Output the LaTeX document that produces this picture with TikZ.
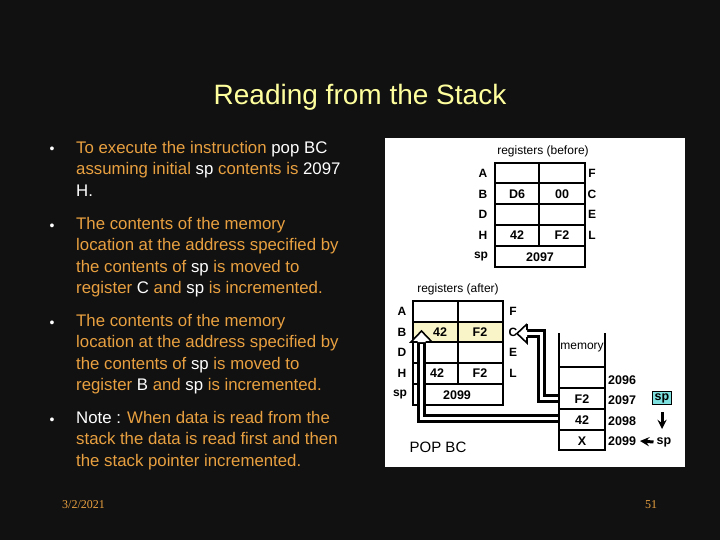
\documentclass[tikz,border=0pt]{standalone}
\usepackage{fontspec}
\setmainfont{Liberation Sans}
\newfontfamily\serifdate{Liberation Serif}
\begin{document}
\begin{tikzpicture}[x=1pt,y=-1pt,
  body/.style={anchor=north west,inner sep=0pt,align=left,text=orn,font=\fontsize{16.8}{21.5}\selectfont},
  bul/.style={anchor=base,inner sep=0pt,text=white,font=\fontsize{14}{14}\selectfont},
  lab/.style={inner sep=0pt,font=\bfseries\fontsize{12}{12}\selectfont},
  val/.style={inner sep=0pt,font=\bfseries\fontsize{12.5}{12}\selectfont},
  ttl/.style={inner sep=0pt,font=\fontsize{12}{12}\selectfont},
  grid/.style={line width=1.6pt,draw=black}]
\definecolor{orn}{HTML}{E8A040}
\definecolor{bg}{HTML}{111111}
\definecolor{ylw}{HTML}{FFFF9E}
\definecolor{lyel}{HTML}{FAF5C8}
\definecolor{cyn}{HTML}{7FE0E0}
\newcommand{\W}[1]{\textcolor{white}{#1}}
\fill[bg] (0,0) rectangle (720,540);
\useasboundingbox (0,0) rectangle (720,540);
\node[anchor=base,inner sep=0pt,text=ylw,font=\fontsize{28}{28}\selectfont] (title) at (360,105) {Reading from the Stack};
% bullets
\node[bul] (b1) at (52,154) {\textbullet};
\node[body] (p1) at (76,138) {\strut To execute the instruction \W{pop BC}\\assuming initial \W{sp} contents is \W{2097}\\\W{H.}};
\node[bul] (b2) at (52,230) {\textbullet};
\node[body] (p2) at (76,214) {\strut The contents of the memory\\location at the address specified by\\the contents of \W{sp} is moved to\\register \W{C} and \W{sp} is incremented.};
\node[bul] (b3) at (52,327) {\textbullet};
\node[body] (p3) at (76,311) {\strut The contents of the memory\\location at the address specified by\\the contents of \W{sp} is moved to\\register \W{B} and \W{sp} is incremented.};
\node[bul] (b4) at (52,424) {\textbullet};
\node[body] (p4) at (76,408) {\strut\W{Note :} When data is read from the\\stack the data is read first and then\\the stack pointer incremented.};
\node[anchor=base west,inner sep=0pt,text=orn,font=\serifdate\fontsize{12}{12}\selectfont] (date) at (62,508) {3/2/2021};
\node[anchor=base,inner sep=0pt,text=orn,font=\serifdate\fontsize{12}{12}\selectfont] (pg) at (651,508) {51};
% panel
\fill[white] (385,138) rectangle (685,467);
% before table
\node[ttl] (tb) at (543,151) {registers (before)};
\draw[grid] (495,163) rectangle (585,267);
\foreach \y in {183,204,225,246} \draw[grid] (495,\y) -- (585,\y);
\draw[grid] (539,163) -- (539,246);
\foreach \n/\y in {A/173,B/194,D/214,H/235} \node[lab] (bl\n) at (483,\y) {\n};
\foreach \n/\y in {F/173,C/194,E/214,L/235} \node[lab] (br\n) at (592,\y) {\n};
\node[lab] (bsp) at (481,257) {sp};
\node[val] (bD6) at (517,194) {D6};
\node[val] (b00) at (562,194) {00};
\node[val] (b42) at (517,235) {42};
\node[val] (bF2) at (562,235) {F2};
\node[val] (b2097) at (540,257) {2097};
% after table
\node[ttl] (ta) at (458,289) {registers (after)};
\fill[lyel] (413,322) rectangle (503,342);
\draw[grid] (413,301) rectangle (503,405);
\foreach \y in {322,342,363,384} \draw[grid] (413,\y) -- (503,\y);
\draw[grid] (458,301) -- (458,384);
\foreach \n/\y in {A/311,B/332,D/352,H/373} \node[lab] (al\n) at (402,\y) {\n};
\foreach \n/\y in {F/311,C/332,E/352,L/373} \node[lab] (ar\n) at (513,\y) {\n};
\node[lab] (asp) at (400,395) {sp};
\node[val] (a42) at (440,332) {42};
\node[val] (aF2) at (480,332) {F2};
\node[val] (a42b) at (437,373) {42};
\node[val] (aF2b) at (480,373) {F2};
\node[val] (a2099) at (457,395) {2099};
% memory
\draw[grid] (559,333) -- (559,450) -- (605,450) -- (605,333);
\foreach \y in {367,388,409,430} \draw[grid] (559,\y) -- (605,\y);
\node[ttl] (mem) at (582,348) {memory};
\node[val] (mF2) at (582,399) {F2};
\node[val] (m42) at (582,420) {42};
\node[val] (mX) at (582,441) {X};
\foreach \a/\y in {2096/380,2097/400,2098/421,2099/441} \node[val,anchor=west] (ad\a) at (608,\y) {\a};
\node[val,fill=cyn,draw=black,line width=0.6pt,inner sep=2pt] (spbox) at (662,398) {sp};
\coordinate (dtop) at (662,412);
\coordinate (dbot) at (662,429);
\draw[line width=3pt,-{stealth}] (dtop) -- (dbot);
\node[val] (sp2) at (664,442) {sp};
\draw[line width=3pt,-{stealth}] (sp2.west)++(-3,0) -- (640,441);
\node[inner sep=0pt,font=\fontsize{15}{15}\selectfont] (pop) at (438,447) {POP BC};
% hollow arrows
\coordinate (s1) at (559,398.5);
\coordinate (c1) at (541.5,398.5);
\coordinate (c2) at (541.5,333.5);
\coordinate (t1) at (527,333.5);
\draw[line width=9pt,line join=miter] (s1) -- (c1) -- (c2) -- (t1);
\draw[line width=3.5pt,white,line join=miter] ([xshift=-1pt]s1) -- (c1) -- (c2) -- ([xshift=-2pt]t1);
\draw[line width=1.6pt,fill=white,line join=miter] (527,324) -- (517,333.5) -- (527,343) -- (527,337) (527,330) -- (527,324);
\coordinate (s2) at (559,418.5);
\coordinate (d1) at (421.5,418.5);
\coordinate (t2) at (421.5,342);
\draw[line width=9pt,line join=miter] (s2) -- (d1) -- (t2);
\draw[line width=3.5pt,white,line join=miter] ([xshift=-1pt]s2) -- (d1) -- ([yshift=-2pt]t2);
\draw[line width=1.6pt,fill=white,line join=miter] (417.5,342) -- (411,342) -- (421.5,331) -- (432,342) -- (425.5,342);
\end{tikzpicture}
\end{document}
